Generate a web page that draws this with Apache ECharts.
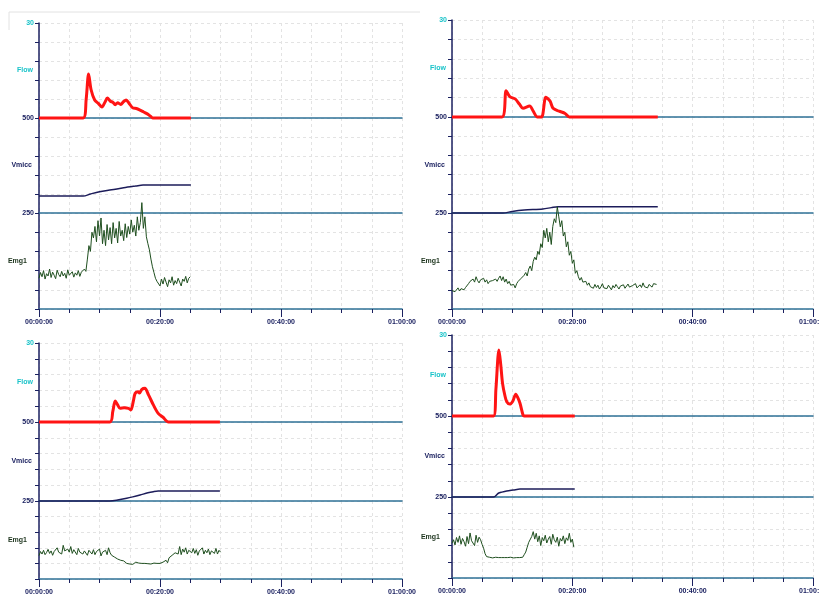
<!DOCTYPE html>
<html>
<head>
<meta http-equiv="Content-Type" content="text/html; charset=UTF-8">
<title>Uroflow</title>
<script type="text/javascript" src="https://cdn.jsdelivr.net/npm/echarts@6/dist/echarts.min.js"></script>
<style>
  html, body { margin: 0; padding: 0; background: #fff; }
</style>
</head>
<body>
    <div id="main" style="width: 819px; height: 596px;"></div>
    <script type="text/javascript">
        // time axis, minutes
        var timeTicks = [0, 20, 40, 60];
        var channelNames = ['Flow', 'Vmicc', 'Emg1'];
        var channelMax = [30, 500, 250];
        var EMG_STEP = 0.25; // sampling step of the emg traces, minutes

        // panel 1 (top left)
        var flow1 = [[0,0],[7.3,0],[7.8,6],[8.2,13.9],[8.6,9],[9.2,5.7],[9.8,4.6],[10.4,3.5],[10.9,5],[11.3,6.3],
            [11.8,5.3],[12.2,5],[12.6,4.2],[13.0,4.8],[13.5,4.3],[14.0,5.2],[14.4,5.7],[14.9,4.6],[15.5,3.2],
            [16.1,3.0],[16.7,2.5],[17.3,1.9],[17.9,1.3],[18.4,0.6],[18.8,0],[25.1,0]];
        var vmicc1 = [[0,89],[7.3,89],[8.5,100],[10,112],[12,122],[14,133],[16,142],[17.2,147],[25.1,147]];
        var emg1 = [80,95,84,100,78,92,86,104,82,96,88,79,101,90,84,98,86,93,80,102,88,84,97,83,94,88,100,85,96,92,104,
            98,130,165,150,200,185,
            215,175,230,190,237,170,205,165,220,180,212,170,225,185,210,172,228,190,205,178,222,186,215,195,232,200,218,190,240,205,225,
            277,210,240,188,170,154,130,110,95,80,72,67,
            60,78,65,82,70,58,76,68,84,62,74,66,80,70,60,78,72,85,68,80,84];

        // panel 2 (top right)
        var flow2 = [[0,0],[8.3,0],[9.0,8.1],[9.6,6.3],[10.5,5.6],[11.2,4.0],[11.8,2.7],[12.9,3.4],[13.5,1.8],[14.2,0],
            [14.9,0],[15.6,6.1],[16.3,4.9],[16.8,2.7],[17.8,1.8],[18.8,1.1],[19.5,0],[34.2,0]];
        var vmicc2 = [[0,0],[8.5,0],[10,8],[12,15],[15.1,21],[16.5,28],[17.6,33],[34.2,33]];
        var emg2 = [48,52,45,50,55,47,53,58,50,56,60,
            66,72,68,78,70,84,74,68,76,72,
            80,70,76,66,72,68,74,70,78,72,
            80,86,74,84,70,78,66,72,62,
            58,64,55,66,72,68,80,76,88,
            95,86,104,112,100,124,135,128,150,142,
            170,160,205,185,210,175,200,168,215,235,225,
            266,240,214,230,
            190,200,162,175,140,150,119,128,93,100,84,
            75,82,70,66,72,62,68,58,
            60,54,64,56,62,52,58,66,55,60,53,62,57,50,61,55,64,58,52,60,56,63,54,59,65,57,52,61,58,66,55,60,63,56,68,58,62,55,64,60,57,66,61,64];

        // panel 3 (bottom left)
        var flow3 = [[0,0],[11.7,0],[12.2,4],[12.6,8.0],[13.0,6.5],[13.4,5.2],[14.1,5.4],[14.8,5.2],[15.2,4.6],[15.6,8],
            [15.9,10.9],[16.4,11.5],[16.6,11],[17.0,12.4],[17.5,12.8],[18.1,10.3],[18.9,6.5],[19.7,3.3],[20.5,1.8],[21.4,0],[29.9,0]];
        var vmicc3 = [[0,0],[11.7,0],[13,6],[14.5,17],[15.5,26],[16.7,38],[18,52],[18.9,59],[19.7,63],[29.9,63]];
        var emg3 = [75,88,80,92,78,85,95,82,90,76,88,84,100,86,92,80,108,90,84,96,86,104,82,94,88,78,98,86,92,80,90,84,76,92,86,80,94,78,88,82,96,74,86,80,92,78,100,84,76,
            82,70,74,64,68,60,64,58,
            54,50,56,48,52,47,50,54,49,51,48,50,49,50,51,49,50,48,50,51,49,50,52,50,
            46,54,48,60,52,68,62,76,70,84,
            90,80,104,78,96,86,100,80,92,88,84,98,82,94,76,90,86,100,80,92,84,96,78,90,88,82,98,80,92,86];

        // panel 4 (bottom right)
        var flow4 = [[0,0],[6.9,0],[7.3,10],[7.8,24.4],[8.1,19],[8.4,12.1],[8.8,7.5],[9.1,5.3],[9.6,4.4],[10.1,5.5],
            [10.6,8.1],[10.9,7],[11.3,4.7],[11.8,0.4],[12.0,0],[20.4,0]];
        var vmicc4 = [[0,0],[6.9,0],[7.7,23],[8.3,30],[9.1,37],[10.2,43],[11.3,49],[20.4,49]];
        var emg4 = [107,118,102,125,110,130,104,122,112,98,128,106,139,115,120,100,132,110,126,118,
            104,92,75,66,
            63,64,63,62,63,64,63,63,62,63,64,63,62,63,63,64,63,62,63,63,64,63,62,64,
            72,80,95,110,104,128,143,
            120,138,112,130,100,125,115,132,108,120,128,104,135,118,110,126,98,122,114,130,106,124,116,138,110,120,
            95];

        var flows = [flow1, flow2, flow3, flow4];
        var vmiccs = [vmicc1, vmicc2, vmicc3, vmicc4];
        var emgs = [emg1, emg2, emg3, emg4];

        // screen layout of the four panels (channel borders top to bottom)
        var panels = [
            {left: 39, width: 363, tops: [23, 118, 213, 309]},
            {left: 452, width: 361, tops: [20, 117, 213, 309]},
            {left: 39, width: 363, tops: [343, 422, 501, 579]},
            {left: 452, width: 361, tops: [335, 416, 497, 578]}
        ];

        var FONT = '"Liberation Sans Narrow", "Liberation Sans", Arial, sans-serif';
        var NAVY = '#1b2160';
        var GRIDC = '#e3e3e3';
        var nameColors = ['#19c3c9', NAVY, '#1c331c'];
        var labelColors = ['#19c3c9', NAVY, NAVY];
        var nameGaps = [6, 7, 12];

        function pad(n) { return (n < 10 ? '0' : '') + n; }
        function timeLabel(v) {
            return pad(Math.floor(v / 60)) + ':' + pad(v % 60) + ':00';
        }

        var grids = [], xAxes = [], yAxes = [], series = [];
        panels.forEach(function (p, pi) {
            var base = grids.length;
            for (var c = 0; c < 3; c++) {
                var isBottom = (c === 2);
                grids.push({
                    left: p.left, width: p.width, top: p.tops[c], height: p.tops[c + 1] - p.tops[c],
                    containLabel: false, outerBoundsMode: 'none'
                });
                xAxes.push({
                    type: 'value', gridIndex: base + c, min: 0, max: 60, interval: 20,
                    axisLine: {lineStyle: {color: '#2f7196', width: 1.5}},
                    axisTick: {show: isBottom, length: 8, lineStyle: {color: NAVY}},
                    minorTick: {show: isBottom, splitNumber: 4, length: 4, lineStyle: {color: NAVY}},
                    axisLabel: {
                        show: isBottom, margin: 10, fontSize: 7, fontWeight: 'bold', color: NAVY, fontFamily: FONT,
                        formatter: function (v) { return timeTicks.indexOf(v) >= 0 ? timeLabel(v) : ''; }
                    },
                    splitLine: {show: true, lineStyle: {color: GRIDC, type: [3, 3], width: 1}},
                    minorSplitLine: {show: true, lineStyle: {color: GRIDC, type: [3, 3], width: 1}}
                });
                (function (c) {
                    yAxes.push({
                        type: 'value', gridIndex: base + c, min: 0, max: channelMax[c], interval: channelMax[c] / 5,
                        name: channelNames[c], nameLocation: 'middle', nameRotate: 0, nameGap: nameGaps[c],
                        nameMoveOverlap: false,
                        nameTextStyle: {color: nameColors[c], fontSize: 7, fontWeight: 'bold', fontFamily: FONT, align: 'right'},
                        axisLine: {show: true, onZero: false, lineStyle: {color: NAVY, width: 1.5}},
                        axisTick: {show: true, length: 4, lineStyle: {color: NAVY}},
                        axisLabel: {
                            margin: 5, fontSize: 7, fontWeight: 'bold', color: labelColors[c], fontFamily: FONT,
                            formatter: function (v) { return v === channelMax[c] ? String(channelMax[c]) : ''; }
                        },
                        splitLine: {show: true, lineStyle: {color: GRIDC, type: [3, 3], width: 1}}
                    });
                })(c);
            }
            series.push({
                type: 'line', name: 'Flow', xAxisIndex: base, yAxisIndex: base, data: flows[pi],
                showSymbol: false, smooth: 0.3, clip: false, z: 5,
                lineStyle: {color: '#ff1414', width: 3}
            });
            series.push({
                type: 'line', name: 'Vmicc', xAxisIndex: base + 1, yAxisIndex: base + 1, data: vmiccs[pi],
                showSymbol: false, smooth: 0.3, clip: false, z: 4,
                lineStyle: {color: '#1c1c5a', width: 1.5}
            });
            series.push({
                type: 'line', name: 'Emg1', xAxisIndex: base + 2, yAxisIndex: base + 2,
                data: emgs[pi].map(function (v, i) { return [i * EMG_STEP, v]; }),
                showSymbol: false, clip: false, z: 4,
                lineStyle: {color: '#1f4f1f', width: 1}
            });
        });

        var myChart = echarts.init(document.getElementById('main'));
        myChart.setOption({
            animation: false,
            backgroundColor: '#ffffff',
            graphic: [{
                type: 'line', shape: {x1: 9, y1: 12, x2: 420, y2: 12},
                style: {stroke: '#e2e2e2', lineWidth: 1}
            }, {
                type: 'line', shape: {x1: 9, y1: 12, x2: 9, y2: 30},
                style: {stroke: '#e2e2e2', lineWidth: 1}
            }],
            grid: grids,
            xAxis: xAxes,
            yAxis: yAxes,
            series: series
        });
    </script>
</body>
</html>
